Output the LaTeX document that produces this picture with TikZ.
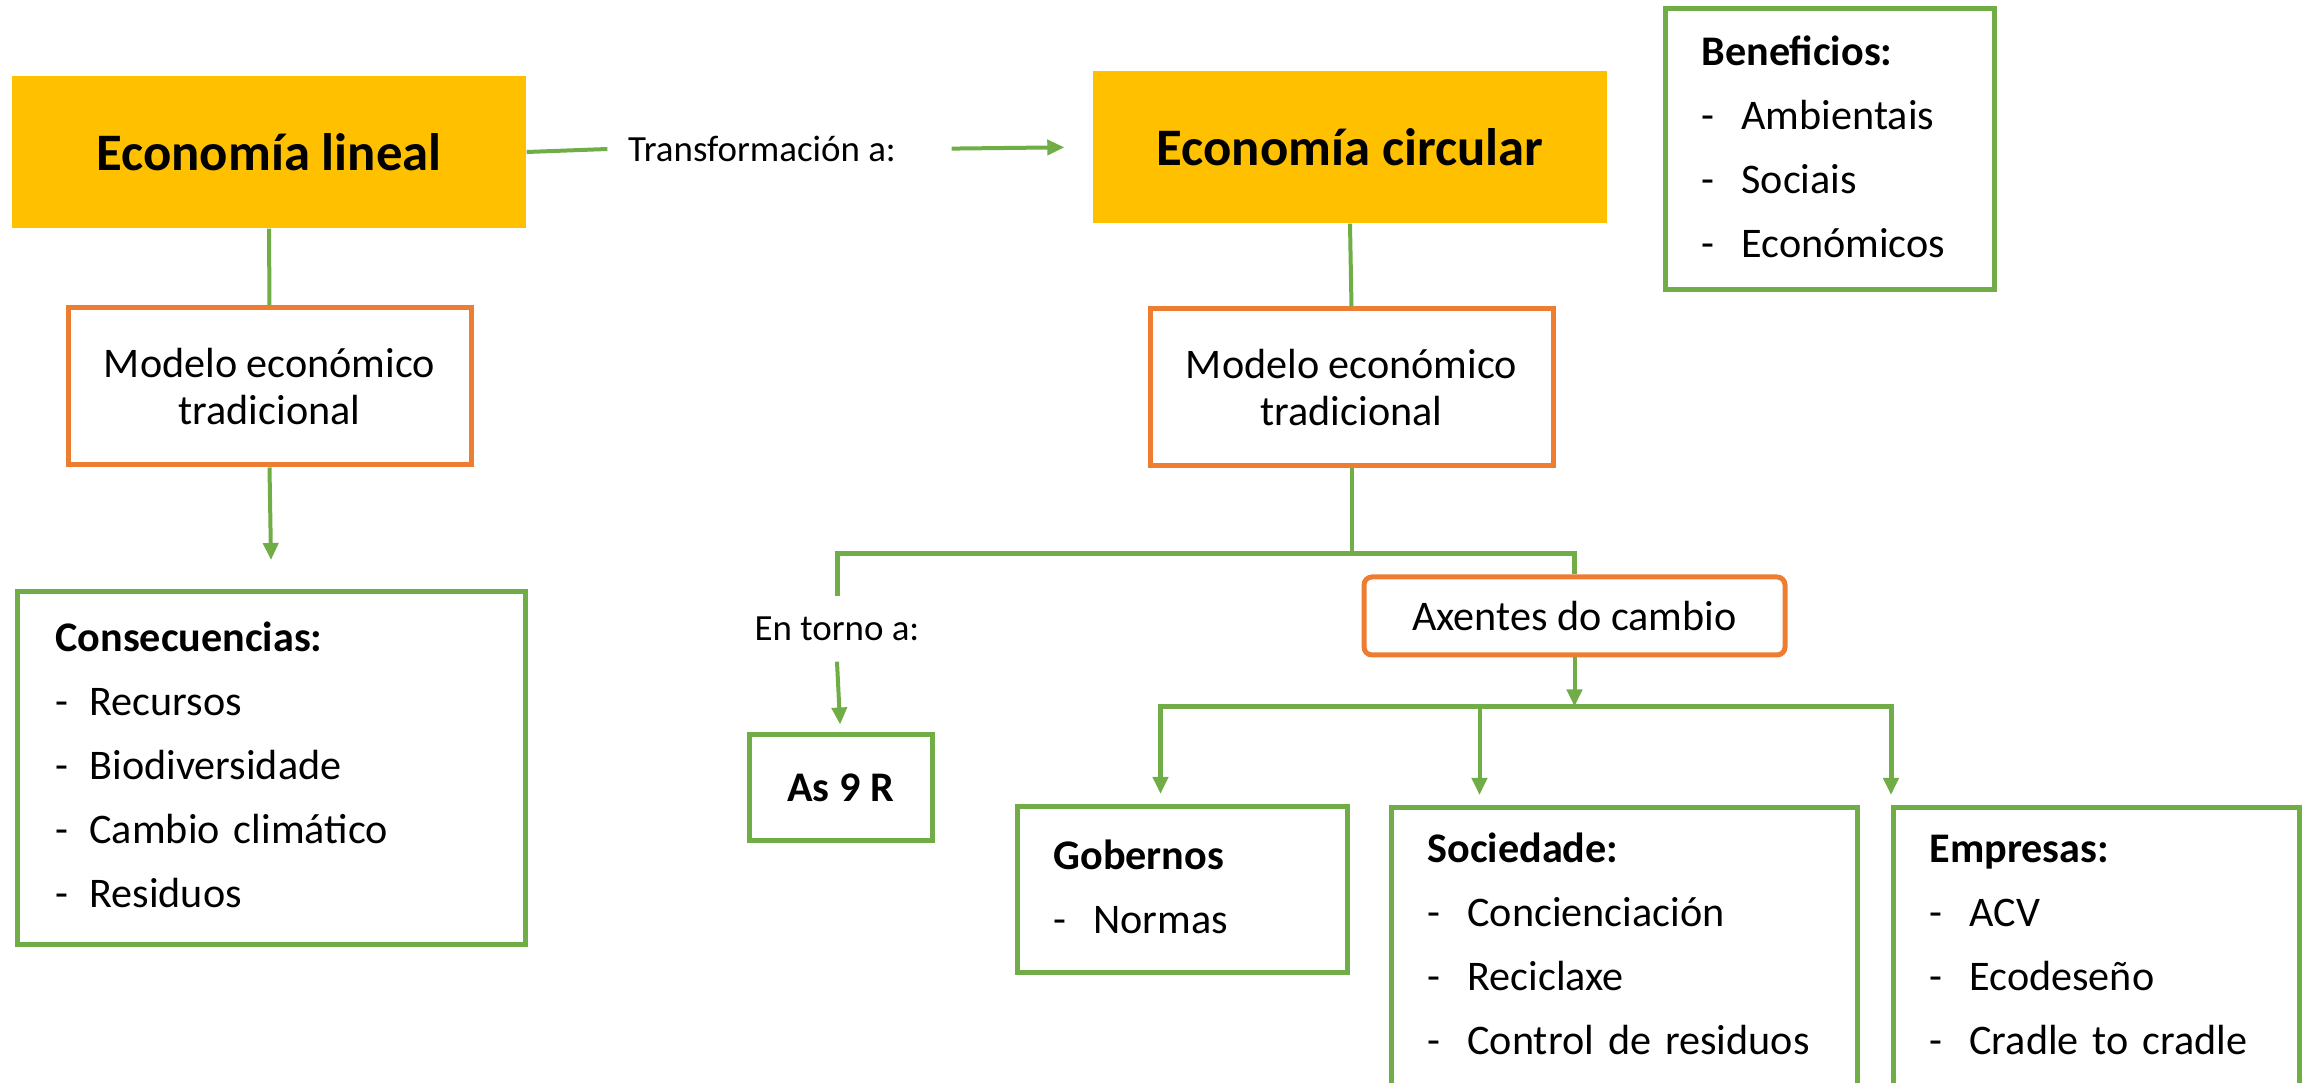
\documentclass[tikz,border=0pt]{standalone}
\usepackage{fontspec}
\setmainfont{Carlito}
\usetikzlibrary{arrows.meta,positioning}
\definecolor{ecoyellow}{HTML}{FFC000}
\definecolor{ecoorange}{HTML}{ED7D31}
\definecolor{ecogreen}{HTML}{70AD47}
\newcommand{\guion}[2][0.4cm]{\makebox[#1][l]{-}#2}

\begin{document}
\begin{tikzpicture}[
        ecotip/.tip={Triangle[length=0.17cm,width=0.15cm]},
        ecobox/.style={fill=ecoyellow, minimum width=5.14cm, minimum height=1.52cm, inner sep=0, font=\fontsize{15}{18}\selectfont\bfseries},
        modelbox/.style={draw=ecoorange, line width=0.05cm, fill=white, minimum width=4.03cm, minimum height=1.57cm, inner sep=0, align=center, font=\fontsize{12}{13.1}\selectfont},
        listbox/.style={draw=ecogreen, line width=0.05cm, anchor=north west, align=left, inner ysep=0, inner xsep=0.36cm, font=\fontsize{12}{18.2}\selectfont},
        smalltext/.style={font=\fontsize{10.5}{12}\selectfont},
        link/.style={ecogreen, line width=0.04cm},
        bus/.style={ecogreen, line width=0.05cm}
    ]
                \useasboundingbox (0,0) rectangle (23.08,-10.83);
                \clip (0,0) rectangle (23.08,-10.83);

                \node[ecobox] (lineal) at (2.69,-1.52) {Economía lineal};
                \node[ecobox] (circular) at (13.50,-1.47) {Economía circular};
                \node[smalltext, inner xsep=0.2cm] (trans) at (7.62,-1.49) {Transformación a:};
                \node[modelbox] (modL) at (2.695,-3.865) {Modelo económico\\tradicional};
                \node[modelbox] (modR) at (13.515,-3.875) {Modelo económico\\tradicional};

                \node[listbox, text width=4.32cm, inner xsep=0.38cm, text height=0.6cm, text depth=2.93cm] (cons) at (0.15,-5.89) {\textbf{Consecuencias:}\\\guion[0.34cm]{Recursos}\\\guion[0.34cm]{Biodiversidade}\\\guion[0.34cm]{Cambio climático}\\\guion[0.34cm]{Residuos}};
                \node[listbox, text width=2.57cm, text height=0.57cm, text depth=2.24cm] (benef) at (16.63,-0.06) {\textbf{Beneficios:}\\\guion{Ambientais}\\\guion{Sociais}\\\guion{Económicos}};

                \node[smalltext, inner ysep=0.2cm] (entorno) at (8.37,-6.29) {En torno a:};
                \node[draw=ecogreen, line width=0.05cm, minimum width=1.83cm, minimum height=1.06cm, inner sep=0, font=\fontsize{12}{14}\selectfont\bfseries] (nueveR) at (8.405,-7.88) {As 9 R};
                \node[draw=ecoorange, line width=0.05cm, rounded corners=0.08cm, minimum width=4.21cm, minimum height=0.78cm, inner sep=0, font=\fontsize{12}{14}\selectfont] (axentes) at (15.745,-6.16) {Axentes do cambio};

                \node[listbox, text width=2.58cm, text height=0.63cm, text depth=1.03cm] (gob) at (10.15,-8.04) {\textbf{Gobernos}\\\guion{Normas}};
                \node[listbox, text width=3.94cm, text height=0.55cm, text depth=2.62cm] (soc) at (13.89,-8.05) {\textbf{Sociedade:}\\\guion{Concienciación}\\\guion{Reciclaxe}\\\guion{Control de residuos}};
                \node[listbox, text width=3.34cm, text height=0.55cm, text depth=2.62cm] (emp) at (18.91,-8.05) {\textbf{Empresas:}\\\guion{ACV}\\\guion{Ecodeseño}\\\guion{Cradle to cradle}};

                \coordinate[below=0.85cm of modR.south] (bus1);
                \coordinate[below=0.49cm of axentes.south] (bus2);
                \coordinate (gobtip) at ([xshift=-0.22cm, yshift=0.1cm]gob.north);
                \coordinate (soctip) at ([xshift=-1.45cm, yshift=0.1cm]soc.north);
                \coordinate (emptip) at ([yshift=0.1cm]emp.north west);

                \draw[link] (lineal.east) -- (trans.west);
                \draw[link, -ecotip, shorten <=0.35cm, shorten >=0.28cm] (trans.east) -- (circular.west);
                \draw[link] (lineal.south) -- (modL.north);
                \draw[link, -ecotip, shorten >=0.29cm] (modL.south) -- (cons.north);
                \draw[link] (circular.south) -- (modR.north);
                \draw[link] (modR.south) -- (bus1);
                \draw[bus] (entorno.north) |- (bus1) -| (axentes.north);
                \draw[link, -ecotip, shorten >=0.08cm] (entorno.south) -- (nueveR.north);
                \draw[link, -ecotip] (axentes.south) -- (bus2);
                \draw[bus, ecotip-ecotip] (gobtip) |- (bus2) -| (emptip);
                \draw[link, -ecotip] (soctip |- bus2) -- (soctip);
\end{tikzpicture}
\end{document}
